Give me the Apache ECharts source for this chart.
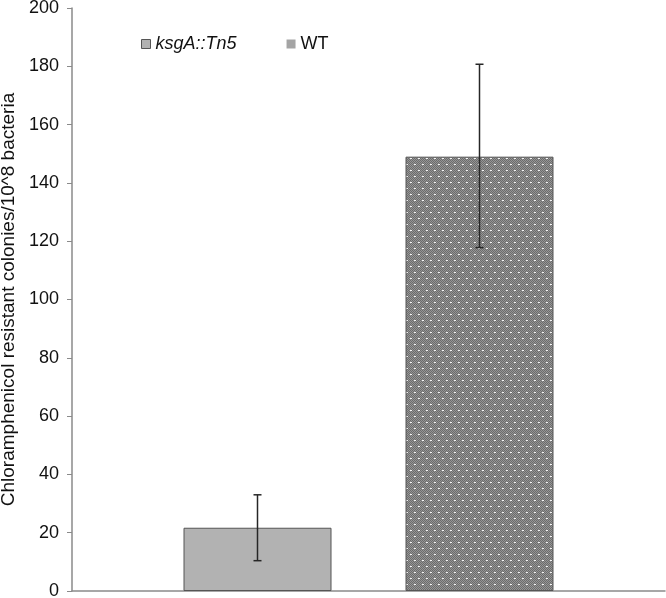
<!DOCTYPE html>
<html>
<head>
<meta charset="utf-8">
<script src="https://cdn.jsdelivr.net/npm/echarts@6/dist/echarts.min.js"></script>
<style>
html,body{margin:0;padding:0;background:#fff;}
#chart{width:666px;height:598px;}
</style>
</head>
<body>
<div id="chart"></div>
<script>
// Data
var categories = ['group'];
var seriesNames = ['ksgA::Tn5', 'WT'];
var meanKsgA = [21.7];
var meanWT = [149];
var errLowKsgA = [10.4];
var errHighKsgA = [33];
var errLowWT = [117.8];
var errHighWT = [180.7];
var yTicks = [0, 20, 40, 60, 80, 100, 120, 140, 160, 180, 200];
var yTitle = 'Chloramphenicol resistant colonies/10^8 bacteria';

// Style constants
var BAR_W = 148;
var GAP_RATIO = 0.5;
var FONT = 'Liberation Sans, Arial, sans-serif';

// Dotted pattern for WT
var pc = document.createElement('canvas');
pc.width = 8; pc.height = 12;
var g = pc.getContext('2d');
g.fillStyle = '#959595';
g.fillRect(0, 0, 8, 12);
g.fillStyle = '#6c6c6c';
for (var yy = 0; yy < 12; yy++) {
  for (var xx = 0; xx < 8; xx++) {
    if ((xx + yy) % 2 === 0) g.fillRect(xx, yy, 1, 1);
  }
}
g.fillStyle = '#f4f4f4';
g.fillRect(2, 2, 2, 1);
g.fillRect(6, 8, 2, 1);

var chart = echarts.init(document.getElementById('chart'), null, {renderer: 'canvas'});

function errRender(offsetSign) {
  return function (params, api) {
    var off = offsetSign * (BAR_W + BAR_W * GAP_RATIO) / 2;
    var pLow = api.coord([api.value(0), api.value(1)]);
    var pHigh = api.coord([api.value(0), api.value(2)]);
    var x = pLow[0] + off;
    var cap = 4;
    var st = {stroke: '#262626', lineWidth: 1.5};
    return {
      type: 'group',
      children: [
        {type: 'line', shape: {x1: x, y1: pLow[1], x2: x, y2: pHigh[1]}, style: st},
        {type: 'line', shape: {x1: x - cap, y1: pLow[1], x2: x + cap, y2: pLow[1]}, style: st},
        {type: 'line', shape: {x1: x - cap, y1: pHigh[1], x2: x + cap, y2: pHigh[1]}, style: st}
      ]
    };
  };
}

var option = {
  animation: false,
  backgroundColor: '#ffffff',
  grid: {left: 72, right: 1, top: 8, bottom: 7, containLabel: false, outerBoundsMode: 'none'},
  legend: {
    left: 136, top: 30,
    itemWidth: 9, itemHeight: 9, itemGap: 50,
    textStyle: {fontFamily: FONT, fontSize: 18, color: '#111111'},
    data: [
      {name: seriesNames[0], icon: 'rect', itemStyle: {color: '#b2b2b2', borderColor: '#555555', borderWidth: 1}, textStyle: {fontStyle: 'italic'}},
      {name: seriesNames[1], icon: 'rect', itemStyle: {color: '#a4a4a4', borderWidth: 0}}
    ]
  },
  xAxis: {
    type: 'category',
    data: categories,
    axisLine: {show: true, lineStyle: {color: '#8a8a8a', width: 1.5}},
    axisTick: {show: false},
    axisLabel: {show: false}
  },
  yAxis: {
    type: 'value',
    min: yTicks[0], max: yTicks[yTicks.length - 1], interval: 20,
    name: yTitle,
    nameLocation: 'middle',
    nameRotate: 90,
    nameGap: 48,
    nameTextStyle: {fontFamily: FONT, fontSize: 19, color: '#111111'},
    axisLine: {show: true, lineStyle: {color: '#8a8a8a', width: 1.5}},
    axisTick: {show: true, length: 5, lineStyle: {color: '#8a8a8a'}},
    axisLabel: {fontFamily: FONT, fontSize: 18, color: '#111111', margin: 13},
    splitLine: {show: false}
  },
  series: [
    {
      name: seriesNames[0], type: 'bar', data: meanKsgA,
      barWidth: BAR_W, barGap: (GAP_RATIO * 100) + '%',
      itemStyle: {color: '#b2b2b2', borderColor: '#555555', borderWidth: 1}
    },
    {
      name: seriesNames[1], type: 'bar', data: meanWT,
      barWidth: BAR_W,
      itemStyle: {color: {image: pc, repeat: 'repeat'}, borderColor: '#555555', borderWidth: 1}
    },
    {
      type: 'custom', name: 'errA', renderItem: errRender(-1),
      data: [[0, errLowKsgA[0], errHighKsgA[0]]], z: 10
    },
    {
      type: 'custom', name: 'errB', renderItem: errRender(1),
      data: [[0, errLowWT[0], errHighWT[0]]], z: 10
    }
  ]
};
chart.setOption(option);
</script>
</body>
</html>
